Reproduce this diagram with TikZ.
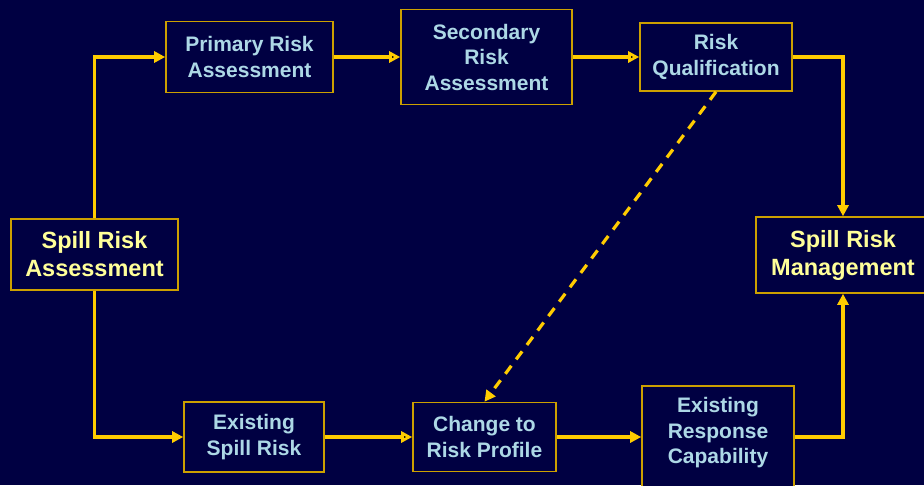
\documentclass[tikz,border=0pt]{standalone}
\usepackage{fontspec}
\setmainfont{Liberation Sans}
\usepackage{xcolor}
\usepackage{tikz}
\usetikzlibrary{arrows.meta}

\definecolor{navy}{RGB}{0,0,66}
\definecolor{rim}{RGB}{204,160,0}
\definecolor{wire}{RGB}{255,204,0}
\definecolor{pale}{RGB}{173,216,230}
\definecolor{cream}{RGB}{255,255,153}

\tikzset{
	box/.style={draw=rim,line width=1.6pt,fill=navy,text=pale,align=center,inner sep=0pt,
		font=\bfseries\fontsize{21}{25.5}\selectfont},
	bigbox/.style={box,text=cream,font=\bfseries\fontsize{23.5}{28}\selectfont},
	wire/.style={draw=wire,line width=3.2pt,-{Triangle[length=11pt,width=11pt]}}
}

\begin{document}
\begin{tikzpicture}[x=1pt,y=-1pt]
		\useasboundingbox[fill=navy] (0,0) rectangle (924,485);
		%
		\node[bigbox,minimum width=167,minimum height=71] (SRA) at (94.5,254.5) {Spill Risk\\Assessment};
		\node[box,minimum width=167,minimum height=71] (PRA) at (249.5,57) {Primary Risk\\Assessment};
		\node[box,minimum width=171,minimum height=95] (SEC) at (486.5,57) {Secondary\\Risk\\Assessment};
		\node[box,minimum width=152,minimum height=68] (RQ) at (716,57) {Risk\\Qualification};
		\node[bigbox,minimum width=174,minimum height=76] (SRM) at (843,255) {Spill Risk\\Management};
		\node[box,minimum width=140,minimum height=70] (ESR) at (254,437) {Existing\\Spill Risk};
		\node[box,minimum width=143,minimum height=69] (CHG) at (484.5,437) {Change to\\Risk Profile};
		\node[box,minimum width=152,minimum height=115] (ERC) at (718,443.5) {Existing\\Response\\Capability\\\mbox{}};
		%
		\path[wire]
		(PRA) edge (SEC)
		(SEC) edge (RQ)
		(ESR) edge (CHG);
		\draw[wire,dash pattern=on 10pt off 8pt] (RQ.south) -- (CHG.north);
		\draw[wire] (CHG.east) -- (CHG.east -| ERC.west);
		\draw[wire] (SRA.north) |- (PRA.west);
		\draw[wire] (SRA.south) |- (ESR.west);
		\draw[wire] (RQ.east) -| (SRM.north);
		\draw[wire] (ERC.east |- ESR.east) -| (SRM.south);
		\end{tikzpicture}
\end{document}
